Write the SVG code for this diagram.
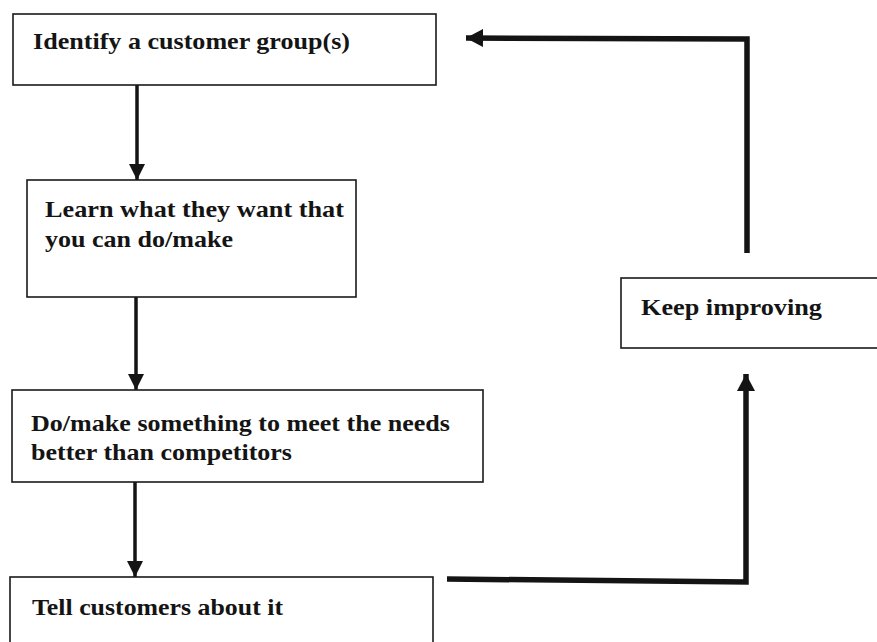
<svg xmlns="http://www.w3.org/2000/svg" width="877" height="642" viewBox="0 0 877 642">
  <style>
    .box { fill: #fff; stroke: #1a1a1a; stroke-width: 1.6; }
    .lbl { font-family: "Liberation Serif", "Times New Roman", serif; font-weight: bold; font-size: 23px; fill: #141414; }
    .thin { fill: none; stroke: #141414; stroke-width: 3.5; }
    .thick { fill: none; stroke: #141414; stroke-width: 5.5; stroke-linejoin: miter; }
  </style>
  <defs>
    <marker id="ah" markerUnits="userSpaceOnUse" markerWidth="16" markerHeight="16" refX="16" refY="8" orient="auto">
      <path d="M0,0 L16,8 L0,16 z" fill="#141414"/>
    </marker>
    <marker id="ahb" markerUnits="userSpaceOnUse" markerWidth="18" markerHeight="18" refX="17" refY="9" orient="auto">
      <path d="M0,0 L17,9 L0,18 z" fill="#141414"/>
    </marker>
  </defs>
  <rect width="877" height="642" fill="#fff"/>

  <g id="connectors">
    <line class="thin" x1="137" y1="85" x2="137" y2="180" marker-end="url(#ah)"/>
    <line class="thin" x1="136" y1="297" x2="136" y2="390" marker-end="url(#ah)"/>
    <line class="thin" x1="135" y1="482" x2="135" y2="577" marker-end="url(#ah)"/>
    <path class="thick" d="M447,579 L746,582 L746,374" marker-end="url(#ahb)"/>
    <path class="thick" d="M747,253 L747,39 L466,38" marker-end="url(#ahb)"/>
  </g>

  <g id="n1">
    <rect class="box" x="13" y="14" width="423" height="71"/>
    <text class="lbl" x="33" y="49" textLength="317" lengthAdjust="spacingAndGlyphs">Identify a customer group(s)</text>
  </g>
  <g id="n2">
    <rect class="box" x="27" y="180" width="329" height="117"/>
    <text class="lbl" x="45" y="217" textLength="299" lengthAdjust="spacingAndGlyphs">Learn what they want that</text>
    <text class="lbl" x="45" y="247" textLength="188" lengthAdjust="spacingAndGlyphs">you can do/make</text>
  </g>
  <g id="n3">
    <rect class="box" x="12" y="390" width="471" height="92"/>
    <text class="lbl" x="31" y="431" textLength="419" lengthAdjust="spacingAndGlyphs">Do/make something to meet the needs</text>
    <text class="lbl" x="31" y="460" textLength="261" lengthAdjust="spacingAndGlyphs">better than competitors</text>
  </g>
  <g id="n4">
    <rect class="box" x="10" y="577" width="423" height="80"/>
    <text class="lbl" x="32" y="615" textLength="251" lengthAdjust="spacingAndGlyphs">Tell customers about it</text>
  </g>
  <g id="n5">
    <rect class="box" x="621" y="278" width="270" height="70"/>
    <text class="lbl" x="641" y="315" textLength="181" lengthAdjust="spacingAndGlyphs">Keep improving</text>
  </g>
</svg>
